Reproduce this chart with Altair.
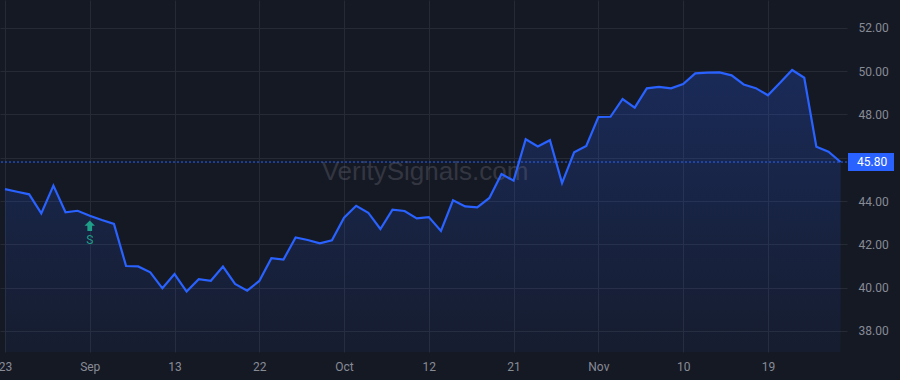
import altair as alt
import pandas as pd

# ---- data ----
values = [
    44.55, 44.43, 44.31, 43.43, 44.71, 43.48, 43.55, 43.32, 43.12, 42.94,
    41.00, 40.98, 40.71, 39.97, 40.63, 39.82, 40.39, 40.32, 40.97, 40.17,
    39.86, 40.31, 41.36, 41.30, 42.32, 42.20, 42.05, 42.19, 43.23, 43.78,
    43.46, 42.71, 43.60, 43.54, 43.20, 43.26, 42.62, 44.03, 43.75, 43.71,
    44.14, 45.25, 44.94, 46.85, 46.52, 46.81, 44.83, 46.25, 46.54, 47.88,
    47.89, 48.71, 48.31, 49.20, 49.27, 49.20, 49.40, 49.89, 49.93, 49.94,
    49.80, 49.38, 49.21, 48.88, 49.46, 50.05, 49.69, 46.51, 46.28, 45.80,
]
tick_index = [0, 7, 14, 21, 28, 35, 42, 49, 56, 63]
tick_labels = ["23", "Sep", "13", "22", "Oct", "12", "21", "Nov", "10", "19"]
y_ticks = [38, 40, 42, 44, 46, 48, 50, 52]
signal_index = [7]
signal_label = ["S"]
last_price = [values[-1]]
watermark = ["VeritySignals.com"]

df = pd.DataFrame({"i": list(range(len(values))), "v": values})
sig_df = pd.DataFrame({"i": signal_index, "v": [values[k] for k in signal_index], "label": signal_label})
price_df = pd.DataFrame({"v": last_price, "label": [f"{p:.2f}" for p in last_price]})
wm_df = pd.DataFrame({"t": watermark})

BG = "#151924"
GRID = "#262a35"
LABEL = "#878b96"
BLUE = "#2962ff"
GREEN = "#1f9e89"
W, H = 847, 352

label_js = "[" + ",".join(f"'{t}'" for t in tick_labels) + "]"

x_scale = alt.Scale(domain=[-0.41, 69.53], nice=False, zero=False)
y_scale = alt.Scale(domain=[37.03, 53.28], nice=False, zero=False)

x_axis = alt.Axis(
    values=tick_index,
    labelExpr=f"{label_js}[datum.value/7]",
    grid=True, gridColor=GRID, gridWidth=1,
    ticks=False, domain=False,
    labelColor=LABEL, labelFontSize=12, labelFont="Roboto",
    labelFontWeight=alt.ExprRef(expr="test(/[A-Za-z]/, datum.label) ? 'bold' : 'normal'"),
    labelPadding=9, labelFlush=False, labelOverlap=False, title=None,
)
y_axis = alt.Axis(
    orient="right", values=y_ticks, format=".2f",
    grid=True, gridColor=GRID, gridWidth=1,
    ticks=False, domain=False,
    labelColor=LABEL, labelFontSize=12, labelFont="Roboto",
    labelPadding=11, labelAlign="left", title=None,
)

base = alt.Chart(df)

area = base.mark_area(
    color=alt.Gradient(
        gradient="linear",
        stops=[
            alt.GradientStop(color="rgba(41,98,255,0.24)", offset=0),
            alt.GradientStop(color="rgba(41,98,255,0.05)", offset=1),
        ],
        x1=1, x2=1, y1=0, y2=1,
    )
).encode(
    x=alt.X("i:Q", scale=x_scale, axis=x_axis),
    y=alt.Y("v:Q", scale=y_scale, axis=y_axis),
    y2=alt.datum(37.03),
)

wm = alt.Chart(wm_df).mark_text(
    font="Liberation Sans", fontSize=26, color="#787b86", opacity=0.3,
    align="center", baseline="middle",
).encode(x=alt.value(425), y=alt.value(172), text="t:N")

line = base.mark_line(color=BLUE, strokeWidth=2.2).encode(
    x=alt.X("i:Q", scale=x_scale),
    y=alt.Y("v:Q", scale=y_scale),
)

rule = alt.Chart(price_df).mark_rule(color=BLUE, strokeDash=[2, 2], strokeWidth=1).encode(
    y=alt.Y("v:Q", scale=y_scale)
)

ARROW_PATH = "M0,-1 L1,0 L0.45,0 L0.45,1 L-0.45,1 L-0.45,0 L-1,0 Z"
arrow = alt.Chart(sig_df).mark_point(
    shape=ARROW_PATH, filled=True, color=GREEN, size=110, opacity=1, yOffset=10,
).encode(x=alt.X("i:Q", scale=x_scale), y=alt.Y("v:Q", scale=y_scale))

stext = alt.Chart(sig_df).mark_text(
    color=GREEN, fontSize=12, font="Roboto", yOffset=24, baseline="middle",
).encode(x=alt.X("i:Q", scale=x_scale), y=alt.Y("v:Q", scale=y_scale), text="label:N")

pbox = alt.Chart(price_df).mark_rect(color=BLUE, yOffset=-9, y2Offset=9).encode(
    x=alt.value(848), x2=alt.value(894),
    y=alt.Y("v:Q", scale=y_scale), y2=alt.Y2("v:Q"),
)
ptext = alt.Chart(price_df).mark_text(
    color="#ffffff", fontSize=12, font="Roboto", align="left", baseline="middle",
).encode(x=alt.value(857), y=alt.Y("v:Q", scale=y_scale), text="label:N")

chart = alt.layer(area, wm, line, rule, arrow, stext, pbox, ptext).properties(
    width=W, height=H,
    padding={"left": 0, "top": 0, "right": 53, "bottom": 28},
    autosize="none",
    background=BG,
).configure_view(stroke=None, fill=BG)

chart.save("out.html", embed_options={"renderer": "svg", "actions": False})
